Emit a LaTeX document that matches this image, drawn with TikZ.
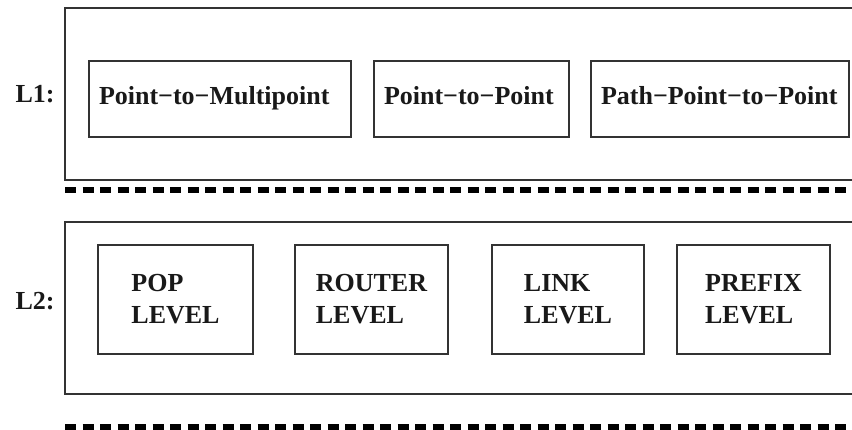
\documentclass[tikz,border=0pt]{standalone}
\usepackage{fontspec}
\setmainfont{Liberation Serif}
\usetikzlibrary{positioning}
\tikzset{
    x=1pt, y=1pt, % one unit is one pixel of the reference
    every node/.style={font=\fontsize{26}{32}\selectfont\bfseries, text=black!90},
    frame/.style={draw=black!80, line width=2pt}, % outer frame of a layer
    divider/.style={line width=6pt, dash pattern=on 11pt off 6.5pt}, % thick dashed separator
    typebox/.style={frame, minimum height=76pt, inner xsep=10pt, text height=18pt, text depth=6pt, align=left},
    levelbox/.style={frame, minimum width=153pt, minimum height=109pt, align=left},
}
\begin{document}
\begin{tikzpicture}
    \useasboundingbox (0,0) rectangle (852,430);

    % layer 1
    \draw[frame] (65,422) rectangle (880,250);
    \node[anchor=base west] (l1) at (12,327) {L1:};
    \node[typebox, text width=242pt, anchor=north west] (p2mp) at (88,370) {Point−to−Multipoint};
    \node[typebox, text width=175pt, right=21pt of p2mp] (p2p) {Point−to−Point};
    \node[typebox, text width=238pt, right=20pt of p2p] (pp2p) {Path−Point−to−Point};
    \draw[divider] (65,239.5) -- (880,239.5);

    % layer 2
    \draw[frame] (65,208) rectangle (880,36);
    \node[anchor=base west] (l2) at (12,120) {L2:};
    \node[levelbox, minimum width=155pt, anchor=north west] (pop) at (97,186) {POP\\LEVEL};
    \node[levelbox, right=40pt of pop] (router) {ROUTER\\LEVEL};
    \node[levelbox, minimum width=152pt, right=42pt of router] (link) {LINK\\LEVEL};
    \node[levelbox, right=31pt of link] (prefix) {PREFIX\\LEVEL};
    \draw[divider] (65,3) -- (880,3);
\end{tikzpicture}
\end{document}
